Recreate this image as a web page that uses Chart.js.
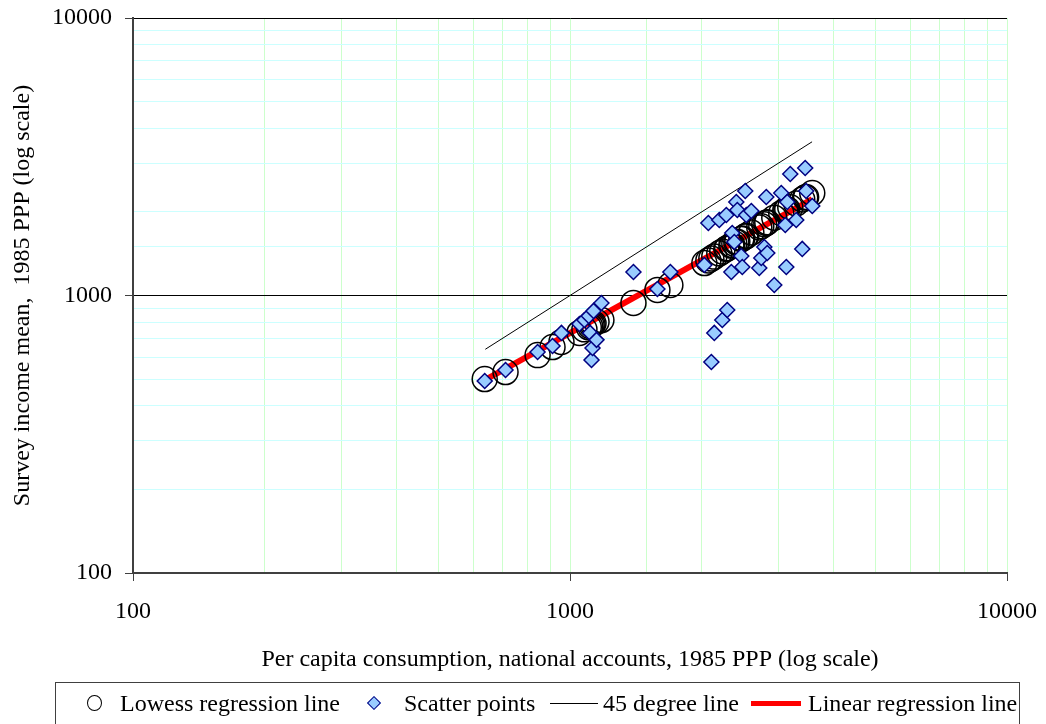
<!DOCTYPE html>
<html>
<head>
<meta charset="utf-8">
<script src="https://cdn.jsdelivr.net/npm/chart.js@4.4.0/dist/chart.umd.min.js"></script>
<style>
  body { margin: 0; background: #fff; }
  #wrap { position: relative; width: 1046px; height: 724px; overflow: hidden; }
  #legend {
    position: absolute; left: 55px; top: 682px; width: 965px; height: 60px;
    border: 1px solid #404040; box-sizing: border-box;
    font: 24px "Liberation Serif", "Times New Roman", serif; color: #000;
  }
  #legend .txt { position: absolute; top: 0; line-height: 40px; white-space: nowrap; }
  #legend .mk { position: absolute; box-sizing: border-box; }
</style>
</head>
<body>
<div id="wrap">
  <canvas id="chart" width="1046" height="724"></canvas>
  <div id="legend">
    <div class="mk" style="left:31px; top:12px; width:15px; height:16px; border:1.5px solid #000; border-radius:50%;"></div>
    <div class="txt" style="left:64px;">Lowess regression line</div>
    <div class="mk" style="left:313px; top:15px; width:10px; height:10px; background:#99ccff; border:1.5px solid #000080; transform:rotate(45deg);"></div>
    <div class="txt" style="left:348px;">Scatter points</div>
    <div class="mk" style="left:494px; top:20px; width:48px; height:1px; background:#000;"></div>
    <div class="txt" style="left:547px;">45 degree line</div>
    <div class="mk" style="left:695px; top:18px; width:50px; height:5px; background:#ff0000;"></div>
    <div class="txt" style="left:752px;">Linear regression line</div>
  </div>
</div>
<script>
// axis ranges and labelled ticks
const xTickLabels = [100, 1000, 10000];
const yTickLabels = [100, 1000, 10000];

// scatter points (per capita consumption vs survey mean)
const scatterX = [638, 712, 843, 912, 956, 1051, 1079, 1104, 1112, 1120, 1126, 1132, 1150, 1180, 1397, 1585, 1697,
  2030, 2073, 2106, 2139, 2196, 2231, 2279, 2290, 2340, 2351, 2377, 2402, 2415, 2466, 2479, 2518, 2532, 2600,
  2711, 2740, 2784, 2813, 2828, 2934, 3044, 3109, 3126, 3142, 3192, 3294, 3400, 3453, 3470, 3584];
const scatterY = [492, 539, 626, 658, 733, 789, 816, 844, 733, 586, 647, 880, 692, 940, 1215, 1055, 1215,
  1288, 1825, 576, 733, 1871, 816, 1950, 887, 1215, 1680, 1559, 2172, 2033, 1388, 1267, 2380, 1950, 2016,
  1257, 1365, 1496, 2265, 1423, 1091, 2340, 1795, 1267, 2172, 2741, 1871, 1472, 2880, 2380, 2101];

// lowess fitted values
const lowessX = [638, 712, 843, 912, 956, 1051, 1079, 1104, 1112, 1120, 1126, 1132, 1150, 1180, 1397, 1585, 1697,
  2030, 2073, 2106, 2139, 2196, 2231, 2279, 2290, 2340, 2351, 2377, 2402, 2415, 2466, 2479, 2518, 2532, 2600,
  2711, 2740, 2784, 2813, 2828, 2934, 3044, 3109, 3126, 3142, 3192, 3294, 3400, 3453, 3470, 3584];
const lowessY = [500, 530, 610, 652, 680, 733, 755, 768, 775, 782, 788, 794, 804, 816, 940, 1047, 1091,
  1309, 1337, 1359, 1381, 1419, 1442, 1473, 1481, 1514, 1521, 1538, 1555, 1563, 1597, 1606, 1631, 1641, 1686,
  1759, 1778, 1807, 1827, 1837, 1907, 1980, 2024, 2035, 2046, 2079, 2147, 2218, 2253, 2264, 2340];

// 45 degree line and linear regression line end points
const diagX = [640, 3580];
const diagY = [640, 3580];
const linX = [638, 3584];
const linY = [496, 2227];

const toPts = (xs, ys) => xs.map((x, i) => ({ x: x, y: ys[i] }));
const serif = '"Liberation Serif", "Times New Roman", serif';

Chart.defaults.font.family = serif;
Chart.defaults.font.size = 24;
Chart.defaults.color = '#000';

new Chart(document.getElementById('chart'), {
  type: 'scatter',
  data: {
    datasets: [
      { label: 'Lowess regression line', data: toPts(lowessX, lowessY), pointStyle: 'circle', pointRadius: 12.5,
        borderColor: '#000', borderWidth: 1.5, backgroundColor: 'rgba(0,0,0,0)', order: 2 },
      { label: 'Scatter points', data: toPts(scatterX, scatterY), pointStyle: 'rectRot', pointRadius: 7.5,
        borderColor: '#000080', borderWidth: 1.5, backgroundColor: '#99ccff', order: 1 },
      { label: '45 degree line', data: toPts(diagX, diagY), showLine: true, pointRadius: 0,
        borderColor: '#000', borderWidth: 1, order: 3 },
      { label: 'Linear regression line', data: toPts(linX, linY), showLine: true, pointRadius: 0,
        borderColor: '#ff0000', borderWidth: 6, order: 3 }
    ]
  },
  options: {
    responsive: false,
    animation: false,
    devicePixelRatio: 1,
    layout: { padding: { left: 8, top: 18, right: 39, bottom: 50 } },
    plugins: { legend: { display: false }, tooltip: { enabled: false } },
    scales: {
      x: {
        type: 'logarithmic', min: 100, max: 10000,
        afterFit: s => { s.height = 101; s.paddingLeft = 0; s.paddingRight = 0; },
        border: { color: '#404040', width: 2 },
        grid: {
          color: '#ccffcc', lineWidth: 1, tickLength: 8,
          tickColor: c => xTickLabels.includes(c.tick && c.tick.value) ? '#404040' : 'rgba(0,0,0,0)'
        },
        ticks: { autoSkip: false, maxRotation: 0, padding: 16,
          callback: v => xTickLabels.includes(v) ? String(v) : '' },
        title: { display: true, text: 'Per capita consumption, national accounts, 1985 PPP (log scale)',
          padding: { top: 0, bottom: 0 } }
      },
      y: {
        type: 'logarithmic', min: 100, max: 10000,
        afterFit: s => { s.width = 125; s.paddingTop = 0; s.paddingBottom = 0; },
        border: { color: '#404040', width: 2 },
        grid: {
          color: c => (c.tick && (c.tick.value === 1000 || c.tick.value === 10000)) ? '#000' : '#ccffff',
          lineWidth: 1, tickLength: 8,
          tickColor: c => yTickLabels.includes(c.tick && c.tick.value) ? '#404040' : 'rgba(0,0,0,0)'
        },
        ticks: { autoSkip: false, padding: 13,
          callback: v => yTickLabels.includes(v) ? String(v) : '' },
        title: { display: true, text: 'Survey income mean,  1985 PPP (log scale)',
          padding: { top: 0, bottom: 0 } }
      }
    }
  }
});
</script>
</body>
</html>
